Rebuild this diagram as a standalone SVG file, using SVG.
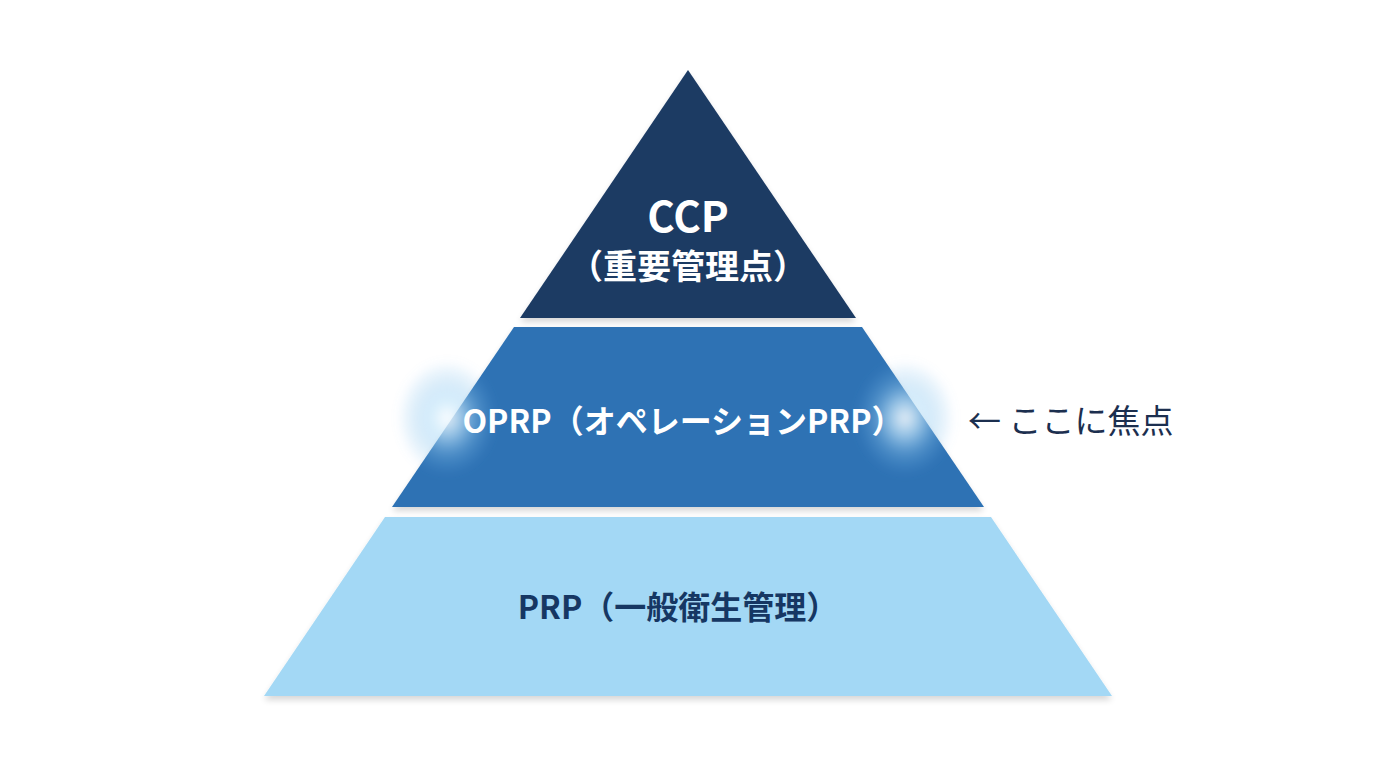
<svg xmlns="http://www.w3.org/2000/svg" width="1376" height="768" viewBox="0 0 1376 768">
<defs>
<style>
.t{font-family:"Noto Sans CJK JP","Noto Sans",sans-serif;font-weight:700;text-anchor:middle}
.w{fill:#ffffff}
.d{fill:#163763}
.lbl{font-family:"Noto Sans CJK JP","Noto Sans",sans-serif;font-weight:400;fill:#1c2f4f;font-size:33px}
</style>
<filter id="sh" x="-10%" y="-10%" width="120%" height="130%">
<feGaussianBlur in="SourceAlpha" stdDeviation="3"/>
<feOffset dy="4"/>
<feComponentTransfer><feFuncA type="linear" slope="0.16"/></feComponentTransfer>
<feMerge><feMergeNode/><feMergeNode in="SourceGraphic"/></feMerge>
</filter>
<radialGradient id="glow">
<stop offset="0" stop-color="#ffffff" stop-opacity="0.9"/>
<stop offset="0.3" stop-color="#c6e7fb" stop-opacity="0.7"/>
<stop offset="0.65" stop-color="#8cc6ef" stop-opacity="0.3"/>
<stop offset="1" stop-color="#6fb4ec" stop-opacity="0"/>
</radialGradient>
<filter id="blur" x="-50%" y="-50%" width="200%" height="200%">
<feGaussianBlur stdDeviation="4"/>
</filter>
</defs>
<rect width="1376" height="768" fill="#ffffff"/>
<g id="prp">
<polygon points="385,517 991,517 1112,696 264,696" fill="#a3d8f5" filter="url(#sh)"/>
<text class="t d" x="678" y="619" font-size="32">PRP（一般衛生管理）</text>
</g>
<g id="oprp">
<polygon points="514,327 862,327 984,507 392,507" fill="#2e72b4" filter="url(#sh)"/>
<ellipse cx="447" cy="418" rx="50" ry="58" fill="url(#glow)" filter="url(#blur)"/>
<ellipse cx="905" cy="418" rx="50" ry="58" fill="url(#glow)" filter="url(#blur)"/>
<text class="t w" x="683" y="433" font-size="32">OPRP（オペレーションPRP）</text>
</g>
<g id="ccp">
<polygon points="688,70 856,318 520,318" fill="#1b3a64" filter="url(#sh)"/>
<text class="t w" x="688" y="232" font-size="42">CCP</text>
<text class="t w" x="688" y="279" font-size="34">（重要管理点）</text>
</g>
<g id="focus">
<text class="lbl" x="968" y="433">← ここに焦点</text>
</g>
</svg>
